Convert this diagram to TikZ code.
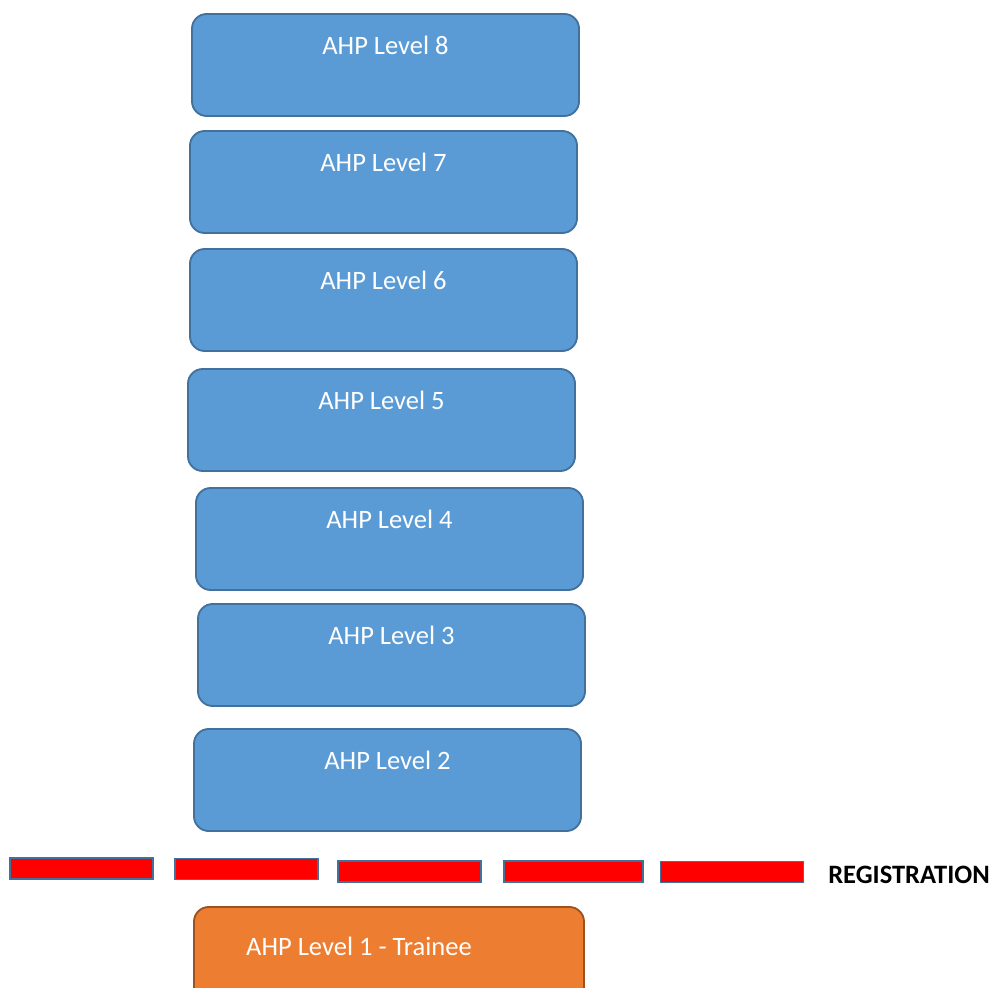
\documentclass[tikz,border=0pt]{standalone}
\usepackage{fontspec}
\setmainfont{Carlito}
\usetikzlibrary{positioning}
\definecolor{levelfill}{HTML}{5B9BD5}
\definecolor{leveldraw}{HTML}{41719C}
\definecolor{traineefill}{HTML}{ED7D31}
\definecolor{traineedraw}{HTML}{9E5220}

\begin{document}
\begin{tikzpicture}[
    x=0.75pt, y=-0.75pt,
    level/.style={rectangle, rounded corners=11pt, minimum height=76.5pt, minimum width=290.25pt, draw=leveldraw, line width=1.4pt, fill=levelfill, inner sep=0pt},
    trainee/.style={rectangle, rounded corners=11pt, minimum height=76.5pt, minimum width=292.5pt, draw=traineedraw, line width=1.4pt, fill=traineefill, inner sep=0pt},
    leveltext/.style={anchor=center, yshift=-24pt, text=white, font=\fontsize{19.9}{23}\selectfont},
    regbar/.style={rectangle, minimum height=15.5pt, minimum width=107pt, draw=leveldraw, line width=1.1pt, fill=red, inner sep=0pt}
]
\useasboundingbox (0,0) rectangle (993,988);

% Define the nodes for each level
\node[level, label={[leveltext]north:AHP Level 8}] (level8) at (385.5,65) {};
\node[level, label={[leveltext]north:AHP Level 7}] (level7) at (383.5,182) {};
\node[level, label={[leveltext]north:AHP Level 6}] (level6) at (383.5,300) {};
\node[level, label={[leveltext]north:AHP Level 5}] (level5) at (381.5,420) {};
\node[level, label={[leveltext]north:AHP Level 4}] (level4) at (389.5,539) {};
\node[level, label={[leveltext]north:AHP Level 3}] (level3) at (391.5,655) {};
\node[level, label={[leveltext]north:AHP Level 2}] (level2) at (387.5,780) {};
\node[trainee, label={[leveltext, yshift=-6pt, xshift=-22.5pt]north:AHP Level 1 - Trainee}] (level1) at (389,958) {};

% Dashed registration line
\node[regbar] (reg1) at (81.5,868.5) {};
\node[regbar] (reg2) at (246.5,869) {};
\node[regbar] (reg3) at (409.5,871.5) {};
\node[regbar, minimum width=104pt] (reg4) at (573.5,871.5) {};
\node[regbar] (reg5) at (732,872) {};
\node[anchor=west, font=\bfseries\fontsize{19.9}{23}\selectfont, inner sep=0pt] (regtext) at (828,875) {REGISTRATION};

\end{tikzpicture}
\end{document}
